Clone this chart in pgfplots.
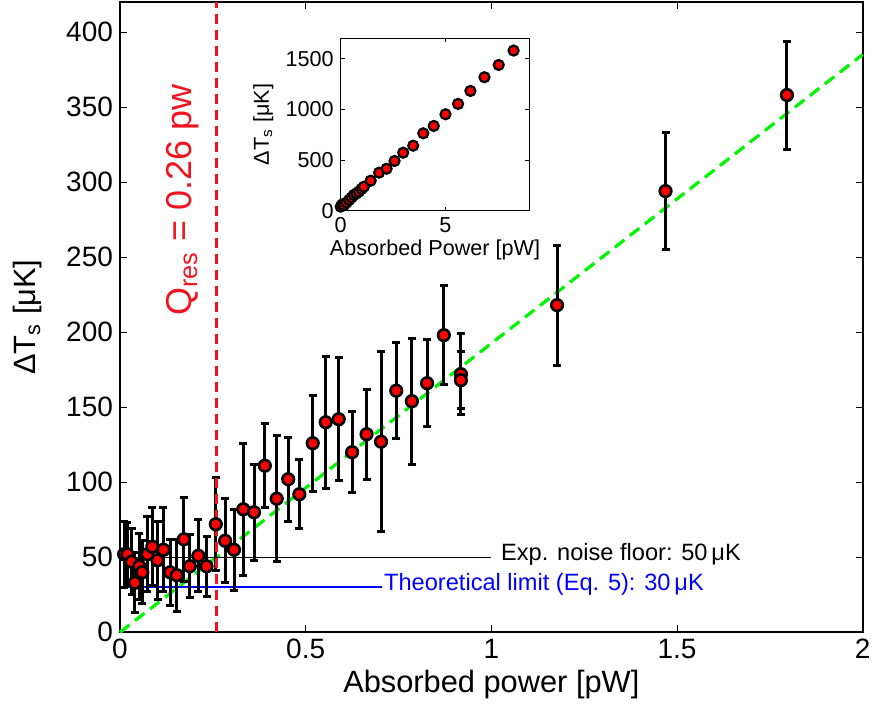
\documentclass[border=0pt]{standalone}
\usepackage{fontspec}
\setmainfont{Liberation Sans}
\usepackage{pgfplots}
\usepackage{pgfplotstable}
\pgfplotsset{compat=1.18}
\definecolor{mgreen}{RGB}{0,245,0}
\definecolor{mred}{RGB}{240,20,30}
\definecolor{mblue}{RGB}{0,0,255}

\pgfplotstableread{
x y e
0.011 52 22
0.020 52 21
0.031 47 22
0.040 33 20
0.052 44 22
0.060 40 21
0.074 52 25
0.087 57 26
0.101 48 26
0.117 55 28
0.135 40 22
0.153 38 24
0.172 62 28
0.188 44 21
0.211 51 24
0.233 44 20
0.258 72 31
0.283 61 28
0.307 55 27
0.332 82 44
0.361 80 32
0.390 111 28
0.422 89 42
0.453 102 28
0.483 92 23
0.519 126 32
0.554 140 44
0.589 142 41
0.625 120 27
0.664 132 30
0.703 127 60
0.744 161 32
0.786 154 42
0.827 166 29
0.872 198 33
0.918 172 27
0.918 168 19
1.177 218 40
1.469 294 39
1.796 358 36
}\maindata

\pgfplotstableread{
x y
0.00 40
0.08 62
0.16 56
0.28 80
0.40 105
0.52 130
0.63 155
0.75 170
0.87 188
1.00 215
1.11 237
1.43 296
1.83 375
2.19 414
2.57 490
2.98 572
3.46 641
3.94 763
4.44 836
5.00 951
5.60 1053
6.19 1181
6.86 1316
7.54 1437
8.25 1579
}\insetdata

\begin{document}
\begin{tikzpicture}
\path[use as bounding box] (-60pt,-39.35pt) rectangle (376pt,316.15pt);
\begin{axis}[
  at={(0,0)}, anchor=south west,
  scale only axis, width=371.35pt, height=315.15pt,
  xmin=0, xmax=2, ymin=0, ymax=420,
  xtick={0,0.5,1,1.5,2}, ytick={0,50,...,400},
  tick align=inside, major tick length=3.5pt,
  every tick/.style={black, line width=0.5pt},
  axis line style={line width=0.8pt},
  /pgf/number format/assume math mode=true,
  ticklabel style={font=\fontsize{14}{14}\selectfont},
  xlabel={Absorbed power [pW]},
  ylabel={ΔT\textsubscript{s} [μK]},
  label style={font=\fontsize{15.4}{16}\selectfont},
  xlabel style={at={(axis description cs:0.5,-0.0836)}, anchor=center},
  ylabel style={at={(axis description cs:-0.124,0.5)}, anchor=center},
  clip=false,
]
\addplot[mgreen, line width=1.6pt, dash pattern=on 6pt off 3.5pt] coordinates {(0,0) (2,385)};
\addplot[black, line width=0.6pt] coordinates {(0,50) (1.0,50)};
\addplot[mblue, line width=0.8pt] coordinates {(0,30) (0.705,30)};
\addplot[only marks, mark=*, mark size=2.9pt,
  mark options={fill=red, draw=black, line width=1.3pt},
  error bars/.cd, y dir=both, y explicit,
  error bar style={line width=1.5pt, black},
  error mark options={rotate=90, mark size=2pt, line width=1.5pt, black}]
  table[x=x, y=y, y error=e]{\maindata};
\addplot[mred, line width=1.5pt, dash pattern=on 5pt off 3pt] coordinates {(0.261,0) (0.261,420)};
\node[anchor=west, inner sep=1pt, font=\fontsize{11.8}{12}\selectfont] at (axis cs:1.02,52) {Exp. noise floor: 50\,μK};
\node[anchor=west, inner sep=1pt, text=mblue, font=\fontsize{11.8}{12}\selectfont] at (axis cs:0.705,32) {Theoretical limit (Eq. 5): 30\,μK};
\node[rotate=90, text=mred, font=\fontsize{18}{18}\selectfont] at (axis cs:0.17,288) {Q\textsubscript{res} = 0.26 pw};
\end{axis}
\begin{axis}[
  at={(110.35pt,210.8pt)}, anchor=south west,
  scale only axis, width=94.3pt, height=86.2pt,
  xmin=0, xmax=9, ymin=0, ymax=1700,
  xtick={0,5}, ytick={0,500,1000,1500},
  axis background/.style={fill=white},
  tick align=inside, major tick length=2pt,
  every tick/.style={black, line width=0.4pt},
  axis line style={line width=0.6pt},
  /pgf/number format/assume math mode=true,
  /pgf/number format/1000 sep={},
  ticklabel style={font=\fontsize{10.8}{11}\selectfont},
  xlabel={Absorbed Power [pW]},
  ylabel={ΔT\textsubscript{s} [μK]},
  label style={font=\fontsize{10.8}{11}\selectfont},
  xlabel style={at={(axis description cs:0.5,-0.228)}, anchor=center},
  ylabel style={at={(axis description cs:-0.41,0.5)}, anchor=center},
  clip=false,
]
\addplot[only marks, mark=*, mark size=2.5pt,
  mark options={fill=red, draw=black, line width=1.1pt}]
  table[x=x, y=y]{\insetdata};
\end{axis}
\end{tikzpicture}
\end{document}
